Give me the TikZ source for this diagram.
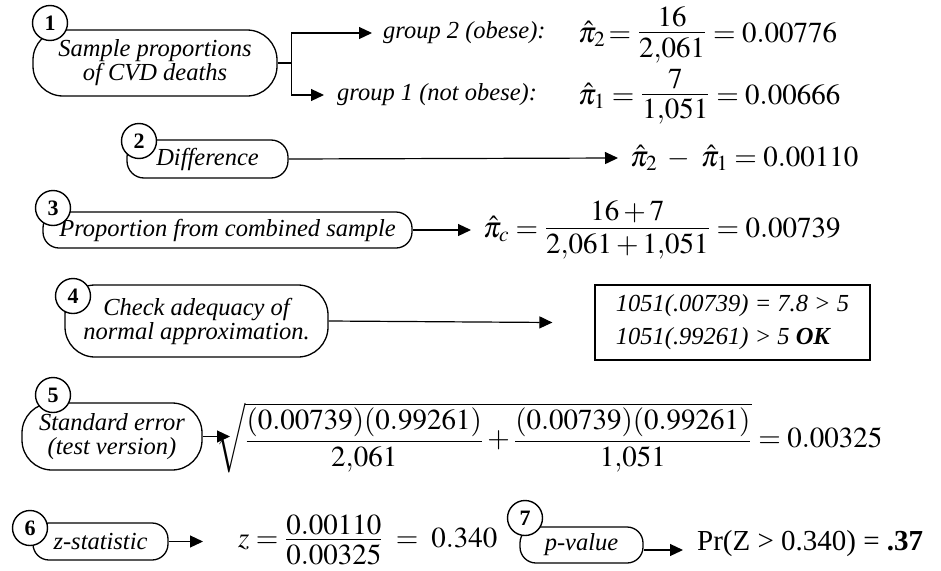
\documentclass[tikz,border=0pt]{standalone}
\usepackage{amsmath}
\usepackage{mathptmx}
\usepackage[no-math]{fontspec}
\setmainfont{Liberation Serif}
\usetikzlibrary{arrows.meta}
\newcommand\labfont{\fontsize{24.5}{24}\selectfont\itshape}
\newcommand\chkfont{\fontsize{24.5}{33}\selectfont\itshape}
\newcommand\mathfnt{\fontsize{29}{33}\selectfont}
\newcommand\badgefnt{\fontsize{22}{22}\selectfont\bfseries}
\newcommand\myfr[2]{\mathord{\kern1.5pt\vcenter{\offinterlineskip\halign{\hfil$\displaystyle##$\hfil\cr #1\cr\noalign{\kern4.5pt\hrule height1.1pt\kern4.5pt}#2\cr}}\kern1.5pt}}
\tikzset{
  stage/.style={draw, line width=1.3pt, rounded corners=#1, inner sep=0pt, align=center, font=\labfont},
  badge/.style={circle, draw, fill=white, line width=1.4pt, minimum size=35pt, inner sep=0pt, font=\badgefnt},
  conn/.style={line width=1.2pt, -{Triangle[length=13pt,width=12pt]}},
  eq/.style={inner sep=0pt, font=\mathfnt},
  lbl/.style={inner sep=0pt, font=\labfont},
  chkbox/.style={draw, line width=1.2pt, inner sep=0pt, align=left, font=\chkfont},
}
\begin{document}
\begin{tikzpicture}[x=1pt,y=-1pt]
\fill[white] (0,0) rectangle (941,570);
\useasboundingbox (0,0) rectangle (941,570);

% ---- 1
\node[stage=30pt, minimum width=244pt, minimum height=66pt] (b1) at (155,63) {Sample proportions\\of CVD deaths};
\node[badge] (c1) at (50,23) {1};
\node[lbl, anchor=west] (g2) at (383,33) {group 2 (obese):};
\node[lbl, anchor=west] (g1) at (337,95) {group 1 (not obese):};
\draw[conn] (b1.east) -- ++(14,0) |- ([xshift=-11pt]g2.west);
\draw[conn] (b1.east) ++(14,0) |- ([xshift=-13pt]g1.west);
\node[eq, anchor=west] (p2) at (578,35) {$\hat{\pi}_2\!= \myfr{16}{2{,}061} = 0.00776$};
\node[eq, anchor=west] (p1) at (578,97) {$\hat{\pi}_1 = \myfr{7}{1{,}051} = 0.00666$};

% ---- 2
\node[stage=17pt, minimum width=161pt, minimum height=38pt] (b2) at (207.5,159) {Difference};
\node[badge] (c2) at (139,141) {2};
\node[eq, anchor=west] (d) at (630,158) {$\hat{\pi}_2 \;-\; \hat{\pi}_1 = 0.00110$};
\draw[conn] (b2.east) -- ([xshift=-12pt]d.west);

% ---- 3
\node[stage=16pt, minimum width=369pt, minimum height=36pt] (b3) at (227.5,230) {Proportion from combined sample};
\node[badge] (c3) at (53,208) {3};
\node[eq, anchor=west] (pc) at (483,230) {$\hat{\pi}_c = \myfr{16 + 7}{2{,}061 + 1{,}051} = 0.00739$};
\draw[conn] (b3.east) -- ([xshift=-12pt]pc.west);

% ---- 4
\node[stage=30pt, minimum width=263pt, minimum height=72pt] (b4) at (196.5,321) {Check adequacy of\\normal approximation.};
\node[badge] (c4) at (73,296) {4};
\node[chkbox, minimum width=275pt, minimum height=75pt] (r4) at (732.5,322.5) {1051(.00739) = 7.8 > 5\\1051(.99261) > 5 \textbf{OK}};
\draw[conn] (b4.east) -- ([xshift=-42pt]r4.west);

% ---- 5
\node[stage=30pt, minimum width=180pt, minimum height=67pt] (b5) at (112,436.5) {Standard error\\(test version)};
\node[badge] (c5) at (53,395) {5};
\node[eq, anchor=west] (se) at (216,438) {$\sqrt{\myfr{(0.00739)(0.99261)}{2{,}061} + \myfr{(0.00739)(0.99261)}{1{,}051}} = 0.00325$};
\coordinate (t5) at ([xshift=14pt]se.west);
\draw[conn] (b5.east) -- (b5.east -| t5);

% ---- 6
\node[stage=16pt, minimum width=135pt, minimum height=37pt] (b6) at (100.5,541.5) {z-statistic};
\node[badge] (c6) at (30,528) {6};
\node[eq, anchor=west] (z) at (238,540) {$z = \myfr{0.00110}{0.00325} \;=\; 0.340$};
\coordinate (t6) at ([xshift=-35pt]z.west);
\draw[conn] (b6.east) -- (b6.east -| t6);

% ---- 7
\node[stage=16pt, minimum width=123pt, minimum height=36pt] (b7) at (581.5,545) {p-value};
\node[badge] (c7) at (525,518) {7};
\node[eq, anchor=base west] (pr) at (697,550) {Pr(Z > 0.340) = \textbf{.37}};
\draw[conn] (b7.east |- pr.base) -- ([xshift=-14pt]pr.base west);
\end{tikzpicture}
\end{document}
